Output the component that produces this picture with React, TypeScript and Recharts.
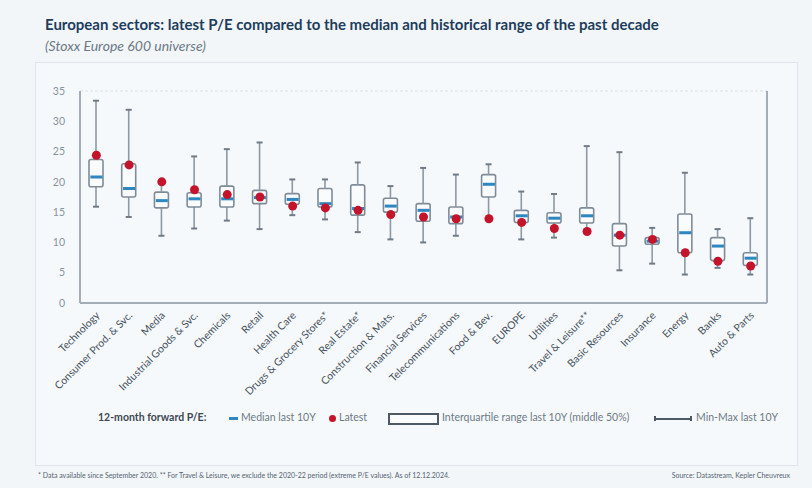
import React from 'react';
import {
  ComposedChart,
  Bar,
  Scatter,
  XAxis,
  YAxis,
  CartesianGrid,
} from 'recharts';

// Data (12-month forward P/E)
const sectors = [
  'Technology', 'Consumer Prod. & Svc.', 'Media', 'Industrial Goods & Svc.', 'Chemicals',
  'Retail', 'Health Care', 'Drugs & Grocery Stores*', 'Real Estate*', 'Construction & Mats.',
  'Financial Services', 'Telecommunications', 'Food & Bev.', 'EUROPE', 'Utilities',
  'Travel & Leisure**', 'Basic Resources', 'Insurance', 'Energy', 'Banks', 'Auto & Parts',
];
const minVals = [15.9, 14.2, 11.1, 12.3, 13.6, 12.2, 14.5, 13.8, 11.7, 10.5, 10.0, 11.1, 13.9, 10.5, 10.8, 12.0, 5.4, 6.5, 4.7, 5.8, 4.7];
const q1Vals = [19.2, 17.5, 15.7, 15.85, 15.85, 16.4, 16.3, 15.85, 14.5, 15.0, 13.5, 13.1, 17.5, 13.3, 13.2, 13.2, 9.4, 9.7, 8.3, 7.0, 6.2];
const medianVals = [20.8, 18.9, 16.9, 17.2, 17.2, 17.4, 17.1, 16.4, 15.6, 16.0, 15.3, 14.2, 19.6, 14.4, 14.0, 14.4, 11.2, 10.2, 11.6, 9.4, 7.4];
const q3Vals = [23.7, 23.0, 18.3, 18.2, 19.3, 18.6, 18.05, 18.9, 19.5, 17.3, 16.4, 15.85, 21.2, 15.3, 14.9, 15.7, 13.1, 10.8, 14.7, 10.8, 8.3];
const maxVals = [33.4, 31.9, 20.2, 24.2, 25.4, 26.5, 20.4, 20.4, 23.2, 19.3, 22.3, 21.2, 22.9, 18.4, 18.0, 25.9, 24.9, 12.4, 21.5, 12.2, 14.0];
const latestVals = [24.4, 22.8, 20.0, 18.7, 17.9, 17.5, 16.0, 15.7, 15.3, 14.6, 14.2, 13.9, 13.9, 13.3, 12.3, 11.8, 11.2, 10.5, 8.3, 6.9, 6.1];
const yTicks = [0, 5, 10, 15, 20, 25, 30, 35];

const rows = sectors.map((name, i) => ({
  name,
  base: minVals[i],
  lowWhisker: q1Vals[i] - minVals[i],
  box: q3Vals[i] - q1Vals[i],
  highWhisker: maxVals[i] - q3Vals[i],
  median: medianVals[i],
  latest: latestVals[i],
}));

const WHISKER = '#8d99a5';
const BOX = '#7f8c98';
const BLUE = '#2f87c0';
const RED = '#c4142b';
const FONT = 'Lato, "Open Sans", sans-serif';

const Empty = () => <g />;

const LowWhisker = (p: any) => {
  const cx = p.x + p.width / 2;
  return (
    <g>
      <line x1={cx} x2={cx} y1={p.y} y2={p.y + p.height} stroke={WHISKER} strokeWidth={1.6} />
      <line x1={cx - 3} x2={cx + 3} y1={p.y + p.height} y2={p.y + p.height} stroke="#6f7c88" strokeWidth={2} />
    </g>
  );
};

const HighWhisker = (p: any) => {
  const cx = p.x + p.width / 2;
  return (
    <g>
      <line x1={cx} x2={cx} y1={p.y} y2={p.y + p.height} stroke={WHISKER} strokeWidth={1.6} />
      <line x1={cx - 3} x2={cx + 3} y1={p.y} y2={p.y} stroke="#6f7c88" strokeWidth={2} />
    </g>
  );
};

const BoxShape = (p: any) => (
  <rect x={p.x} y={p.y} width={p.width} height={p.height} rx={2}
    fill="#f9fbfd" stroke={BOX} strokeWidth={1.6} />
);

const MedianShape = (p: any) => (
  <rect x={p.cx - 6} y={p.cy - 1.5} width={12} height={3} fill={BLUE} />
);

const LatestShape = (p: any) => (
  <circle cx={p.cx} cy={p.cy} r={4.5} fill={RED} />
);

const XTick = ({ x, y, payload }: any) => (
  <g transform={`translate(${x + 4},${y + 5})`}>
    <text textAnchor="end" transform="rotate(-45)" fontSize={10.5} fill="#46525e" fontFamily={FONT}>
      {payload.value}
    </text>
  </g>
);

export default function App() {
  return (
    <div style={{ position: 'fixed', left: 0, top: 0, width: 812, height: 488, background: '#f2f6f9', fontFamily: FONT }}>
      <div style={{ position: 'absolute', left: 35, top: 62, width: 761, height: 402, background: '#f6f9fb', border: '1px solid #dfe5ea' }} />
      <div style={{ position: 'absolute', left: 45, top: 15, fontSize: 15, fontWeight: 700, color: '#1e3d5c', whiteSpace: 'nowrap' }}>
        European sectors: latest P/E compared to the median and historical range of the past decade
      </div>
      <div style={{ position: 'absolute', left: 45, top: 37, fontSize: 14, fontStyle: 'italic', color: '#6c7986', whiteSpace: 'nowrap' }}>
        (Stoxx Europe 600 universe)
      </div>

      <div style={{ position: 'absolute', left: 0, top: 0 }}>
        <ComposedChart width={812} height={488} data={rows} barSize={14}
          margin={{ top: 91, right: 0, left: 0, bottom: 75 }}>
          <CartesianGrid vertical={false} stroke="#d9e0e6" strokeDasharray="3 2" />
          <XAxis dataKey="name" interval={0} height={110} tickLine={false}
            axisLine={{ stroke: '#a3adb7', strokeWidth: 2 }} tick={<XTick />} />
          <YAxis yAxisId="left" orientation="left" width={80} domain={[0, 35]} ticks={yTicks}
            tickLine={false} tickMargin={9} axisLine={{ stroke: '#a3adb7', strokeWidth: 2 }}
            tick={{ fontSize: 10.5, fill: '#8693a0', fontFamily: FONT }} />
          <YAxis yAxisId="right" orientation="right" width={45} domain={[0, 35]} ticks={yTicks}
            tickLine={false} tickMargin={4} axisLine={{ stroke: '#a3adb7', strokeWidth: 2 }}
            tick={{ fontSize: 10.5, fill: '#8693a0', fontFamily: FONT }} />
          <Bar yAxisId="left" dataKey="base" stackId="s" shape={<Empty />} isAnimationActive={false} />
          <Bar yAxisId="left" dataKey="lowWhisker" stackId="s" shape={<LowWhisker />} isAnimationActive={false} />
          <Bar yAxisId="left" dataKey="box" stackId="s" shape={<BoxShape />} isAnimationActive={false} />
          <Bar yAxisId="left" dataKey="highWhisker" stackId="s" shape={<HighWhisker />} isAnimationActive={false} />
          <Scatter yAxisId="left" dataKey="median" shape={<MedianShape />} isAnimationActive={false} />
          <Scatter yAxisId="left" dataKey="latest" shape={<LatestShape />} isAnimationActive={false} />
        </ComposedChart>
      </div>

      {/* Legend */}
      <div style={{ position: 'absolute', left: 0, top: 410, width: 812, height: 18, fontSize: 10.5, color: '#6d7a87', whiteSpace: 'nowrap' }}>
        <span style={{ position: 'absolute', left: 98, top: 1, fontWeight: 700, color: '#3c4853' }}>12-month forward P/E:</span>
        <span style={{ position: 'absolute', left: 229, top: 7, width: 9, height: 3, background: BLUE }} />
        <span style={{ position: 'absolute', left: 241, top: 1 }}>Median last 10Y</span>
        <span style={{ position: 'absolute', left: 329, top: 5, width: 7, height: 7, borderRadius: 4, background: RED }} />
        <span style={{ position: 'absolute', left: 339, top: 1 }}>Latest</span>
        <span style={{ position: 'absolute', left: 388, top: 3, width: 47, height: 8, border: '2px solid #4d5a66', background: '#fbfcfd' }} />
        <span style={{ position: 'absolute', left: 442, top: 1 }}>Interquartile range last 10Y (middle 50%)</span>
        <span style={{ position: 'absolute', left: 655, top: 8, width: 36, height: 1.5, background: '#4d5a66' }} />
        <span style={{ position: 'absolute', left: 654, top: 6, width: 2, height: 5, background: '#4d5a66' }} />
        <span style={{ position: 'absolute', left: 690, top: 6, width: 2, height: 5, background: '#4d5a66' }} />
        <span style={{ position: 'absolute', left: 696, top: 1 }}>Min-Max last 10Y</span>
      </div>

      {/* Footnotes */}
      <div style={{ position: 'absolute', left: 38, top: 471, fontSize: 7, color: '#556472', whiteSpace: 'nowrap' }}>
        * Data available since September 2020. ** For Travel &amp; Leisure, we exclude the 2020-22 period (extreme P/E values). As of 12.12.2024.
      </div>
      <div style={{ position: 'absolute', right: 22, top: 471, fontSize: 7, color: '#556472', whiteSpace: 'nowrap' }}>
        Source: Datastream, Kepler Cheuvreux
      </div>
    </div>
  );
}
